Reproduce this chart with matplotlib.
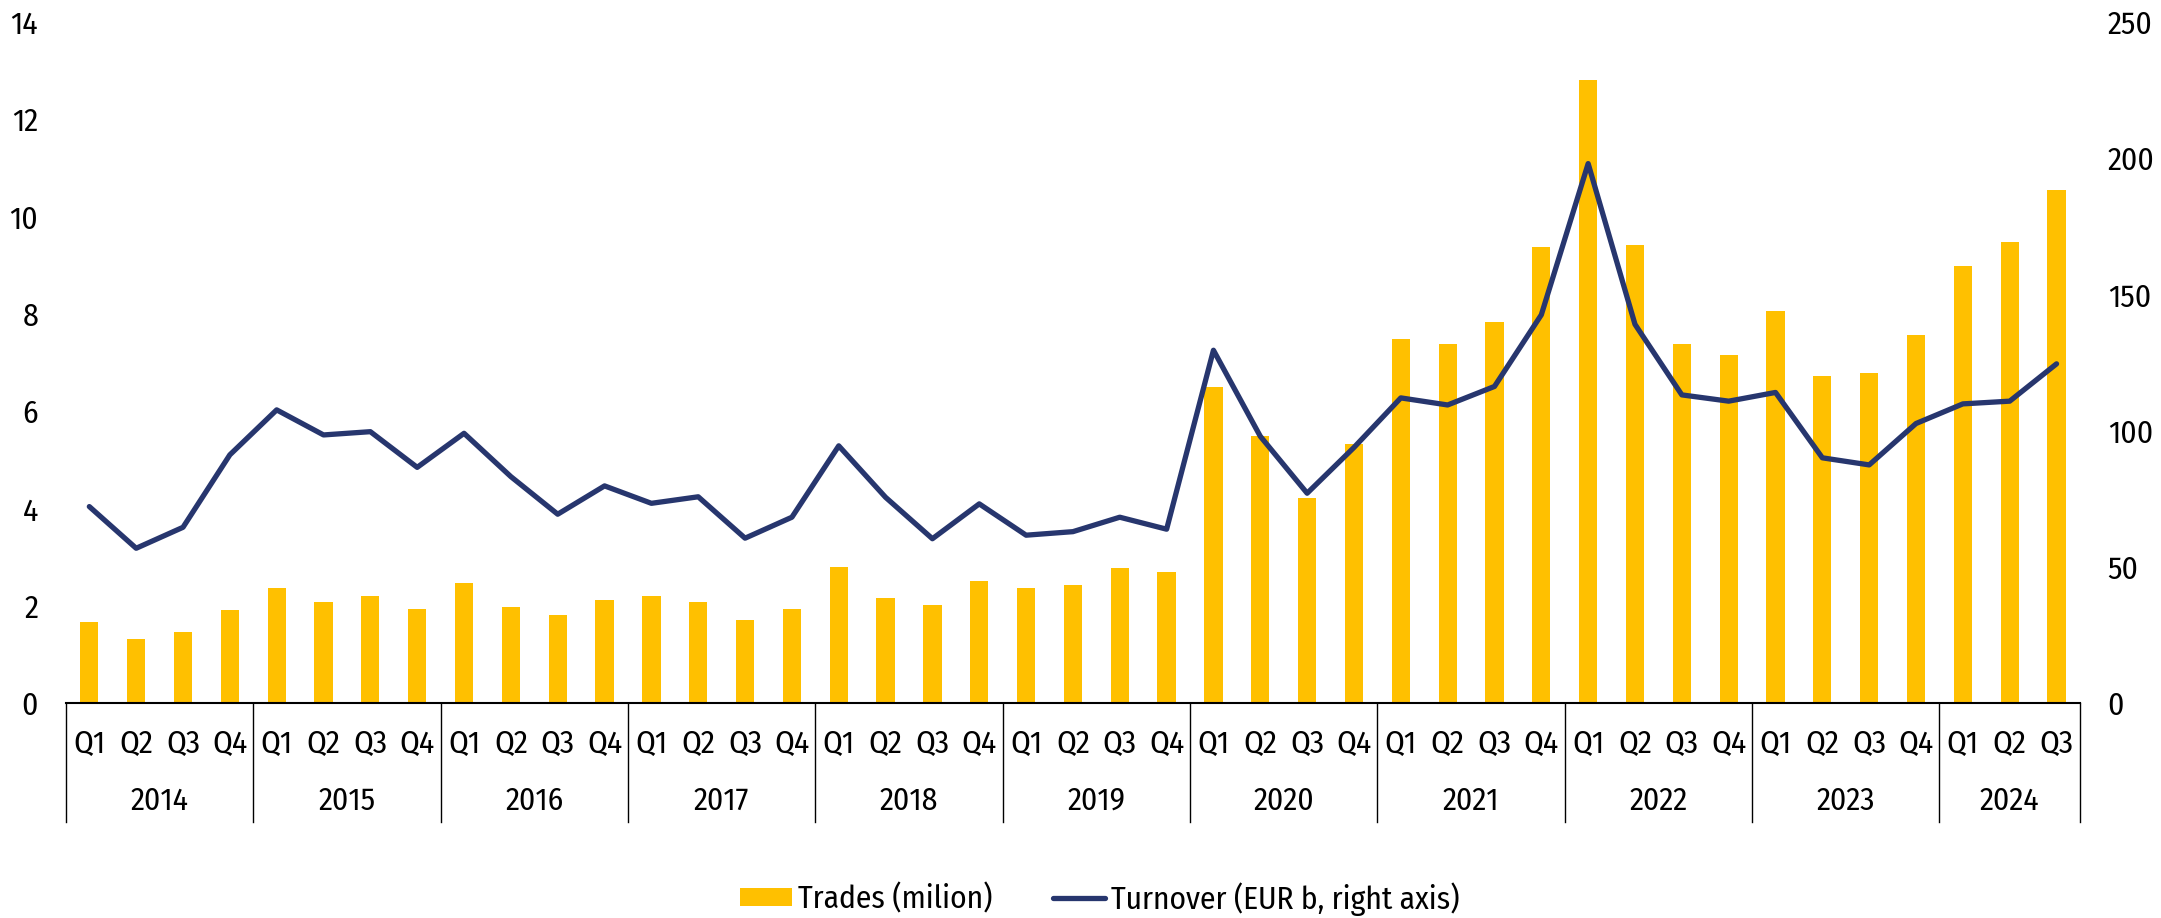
import numpy as np
import matplotlib
matplotlib.use('Agg')
import matplotlib.pyplot as plt
import matplotlib.transforms as mtransforms

plt.rcParams['font.family'] = ['Fira Sans Condensed', 'DejaVu Sans']
plt.rcParams['font.size'] = 22.7

years = ['2014', '2015', '2016', '2017', '2018', '2019', '2020', '2021', '2022', '2023', '2024']
quarters_per_year = [4, 4, 4, 4, 4, 4, 4, 4, 4, 4, 3]

# trades in millions (left axis)
trades = [1.67, 1.32, 1.46, 1.92, 2.37, 2.08, 2.21, 1.93, 2.47, 1.97, 1.81, 2.12,
          2.21, 2.08, 1.71, 1.93, 2.81, 2.17, 2.01, 2.51, 2.37, 2.43, 2.79, 2.70,
          6.50, 5.49, 4.23, 5.33, 7.49, 7.39, 7.83, 9.38, 12.81, 9.43, 7.38, 7.16,
          8.06, 6.72, 6.79, 7.58, 8.99, 9.49, 10.55]
# turnover in EUR b (right axis)
turnover = [72.2, 56.9, 64.6, 91.2, 107.7, 98.5, 99.7, 86.6, 99.1, 83.2, 69.4, 79.8,
            73.4, 75.8, 60.6, 68.3, 94.5, 75.6, 60.4, 73.2, 61.7, 63.0, 68.3, 63.9,
            129.6, 98.0, 77.1, 93.9, 112.1, 109.5, 116.3, 142.6, 198.1, 139.1, 113.2, 110.9,
            114.1, 90.1, 87.5, 102.7, 109.9, 110.9, 124.6]

quarter_labels = []
for n in quarters_per_year:
    quarter_labels += ['Q%d' % (i + 1) for i in range(n)]

yellow = '#FFC000'
navy = '#27366E'

fig = plt.figure(figsize=(21.61, 9.18), dpi=100)
ax = fig.add_axes([0.0305, 0.2339, 0.932, 0.7419])
x = np.arange(len(trades))
ax.bar(x, trades, width=0.39, color=yellow, label='Trades (milion)', zorder=2)
ax.set_xlim(-0.5, len(trades) - 0.5)
ax.set_ylim(0, 14)
ax.set_yticks(np.arange(0, 15, 2))
ax.set_xticks([])
for s in ['top', 'right', 'left']:
    ax.spines[s].set_visible(False)
ax.spines['bottom'].set_linewidth(1.5)
ax.tick_params(axis='y', length=0, pad=20)

ax2 = ax.twinx()
ax2.plot(x, turnover, color=navy, lw=3.8, solid_capstyle='round', solid_joinstyle='round',
         label='Turnover (EUR b, right axis)')
ax2.set_ylim(0, 250)
ax2.set_yticks(np.arange(0, 251, 50))
for s in ['top', 'right', 'left', 'bottom']:
    ax2.spines[s].set_visible(False)
ax2.tick_params(axis='y', length=0, pad=20)

# two-level category axis
trans = mtransforms.blended_transform_factory(ax.transData, ax.transAxes)
for i, q in enumerate(quarter_labels):
    ax.text(i, -0.0595, q, transform=trans, ha='center', va='center')
start = 0
bounds = [-0.5]
for yr, n in zip(years, quarters_per_year):
    ax.text(start + (n - 1) / 2, -0.143, yr, transform=trans, ha='center', va='center')
    start += n
    bounds.append(start - 0.5)
for b in bounds:
    ax.plot([b, b], [0, -0.174], transform=trans, color='black', lw=1.0, clip_on=False)

h1, l1 = ax.get_legend_handles_labels()
h2, l2 = ax2.get_legend_handles_labels()
fig.legend(h1 + h2, l1 + l2, loc='center', bbox_to_anchor=(0.509, 0.021), ncol=2,
           frameon=False, handlelength=1.65, handleheight=0.5, handletextpad=0.2,
           columnspacing=1.9)

fig.savefig('out.png', dpi=100)
plt.close()
